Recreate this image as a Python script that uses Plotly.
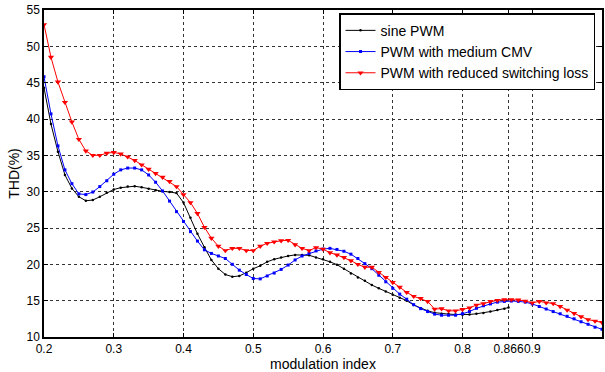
import plotly.graph_objects as go

# Modulation index samples (0.01 steps)
m_full = [round(0.20 + 0.01 * i, 2) for i in range(81)]
m_sine = [round(0.20 + 0.01 * i, 2) for i in range(67)] + [0.866]

thd_sine = [
    44.3, 39.3, 35.5, 32.3, 30.45, 29.3, 28.75, 28.85, 29.3, 29.85,
    30.3, 30.55, 30.7, 30.75, 30.6, 30.4, 30.2, 30.05, 29.95, 29.8,
    28.5, 26.4, 24.2, 22.35, 20.6, 19.4, 18.6, 18.3, 18.4, 18.85,
    19.4, 19.8, 20.35, 20.7, 20.95, 21.15, 21.3, 21.3, 21.25, 20.95,
    20.7, 20.35, 19.95, 19.4, 18.75, 18.2, 17.75, 17.15, 16.7, 16.25,
    15.8, 15.4, 15.0, 14.4, 13.95, 13.6, 13.35, 13.2, 13.15, 13.1,
    13.05, 13.1, 13.2, 13.3, 13.5, 13.7, 13.9, 14.05,
]

thd_medium_cmv = [
    45.8, 40.7, 36.3, 33.0, 31.1, 29.7, 29.6, 29.95, 30.7, 31.5,
    32.4, 33.0, 33.25, 33.25, 33.0, 32.3, 31.3, 30.1, 28.7, 27.25,
    25.9, 24.5, 23.2, 22.0, 21.5, 21.15, 20.8, 20.0, 19.2, 18.6,
    18.05, 18.0, 18.4, 18.8, 19.3, 19.9, 20.6, 21.15, 21.5, 21.85,
    22.1, 22.2, 22.05, 21.8, 21.4, 20.8, 20.1, 19.4, 18.5, 17.6,
    16.7, 15.9, 15.2, 14.45, 13.9, 13.5, 13.15, 13.0, 13.0, 13.0,
    13.2, 13.5, 13.95, 14.3, 14.55, 14.8, 14.9, 14.95, 14.9, 14.8,
    14.55, 14.2, 13.85, 13.5, 13.2, 12.85, 12.5, 12.1, 11.75, 11.35,
    11.05,
]

thd_reduced_sw = [
    53.0, 48.5, 45.1, 42.3, 39.6, 37.2, 35.6, 35.0, 35.0, 35.3,
    35.4, 35.2, 34.8, 34.3, 33.7, 33.1, 32.5, 32.0, 31.4, 30.7,
    29.6, 28.5, 27.0, 25.1, 23.6, 22.5, 21.9, 22.2, 22.2, 21.9,
    21.9, 22.5, 22.9, 23.1, 23.25, 23.3, 22.7, 22.2, 21.9, 22.3,
    22.1, 21.6, 21.3, 20.95, 20.5, 20.0, 19.6, 19.6, 18.9, 18.2,
    17.5, 16.85, 16.15, 15.6, 15.3, 14.9, 13.85, 13.9, 13.6, 13.6,
    13.8, 14.0, 14.4, 14.6, 14.9, 15.05, 15.15, 15.15, 15.1, 14.95,
    14.7, 14.9, 14.7, 14.6, 14.2, 13.7, 13.25, 12.8, 12.4, 12.2,
    12.0,
]

x_tickvals = [0.2, 0.3, 0.4, 0.5, 0.6, 0.7, 0.8, 0.866, 0.9, 1.0]
x_ticktext = ["0.2", "0.3", "0.4", "0.5", "0.6", "0.7", "0.8", "0.866", "0.9", "1"]
y_tickvals = [10, 15, 20, 25, 30, 35, 40, 45, 50, 55]

FONT = "Liberation Sans, Arial, Helvetica, sans-serif"
TICK_SIZE = 12
LABEL_SIZE = 14

fig = go.Figure()
fig.add_trace(go.Scatter(
    x=m_sine, y=thd_sine, name="sine PWM", mode="lines+markers",
    line=dict(color="black", width=1),
    marker=dict(symbol="circle", size=2.5, color="black"),
))
fig.add_trace(go.Scatter(
    x=m_full, y=thd_medium_cmv, name="PWM with medium CMV", mode="lines+markers",
    line=dict(color="#0000ff", width=1),
    marker=dict(symbol="square", size=3, color="#0000ff"),
))
fig.add_trace(go.Scatter(
    x=m_full, y=thd_reduced_sw, name="PWM with reduced switching loss",
    mode="lines+markers",
    line=dict(color="#ff0000", width=1),
    marker=dict(symbol="triangle-down", size=5.5, color="#ff0000"),
))

axis_common = dict(
    showline=True, linecolor="black", linewidth=1.5, mirror="ticks",
    ticks="inside", ticklen=4, tickcolor="black", tickwidth=1,
    showgrid=True, gridcolor="#333333", gridwidth=1, griddash="dot",
    zeroline=False, tickfont=dict(family=FONT, size=TICK_SIZE, color="black"),
)

fig.update_xaxes(
    range=[0.2, 1.0], tickvals=x_tickvals, ticktext=x_ticktext, tickangle=0,
    title=dict(text="modulation index",
               font=dict(family=FONT, size=LABEL_SIZE, color="black"),
               standoff=0),
    **axis_common,
)
fig.update_yaxes(
    range=[10, 55], tickvals=y_tickvals,
    title=dict(text="THD(%)", font=dict(family=FONT, size=LABEL_SIZE, color="black"),
               standoff=4),
    **axis_common,
)

fig.update_layout(
    width=605, height=372,
    margin=dict(l=44, r=1, t=10, b=35),
    paper_bgcolor="white", plot_bgcolor="white",
    font=dict(family=FONT, size=TICK_SIZE, color="black"),
    showlegend=True,
    legend=dict(
        x=0.9875, y=0.99, xanchor="right", yanchor="top",
        bgcolor="white", bordercolor="black", borderwidth=1.5,
        font=dict(family=FONT, size=LABEL_SIZE, color="black"),
        tracegroupgap=0, itemwidth=30,
    ),
)

fig.write_html("out.html")
